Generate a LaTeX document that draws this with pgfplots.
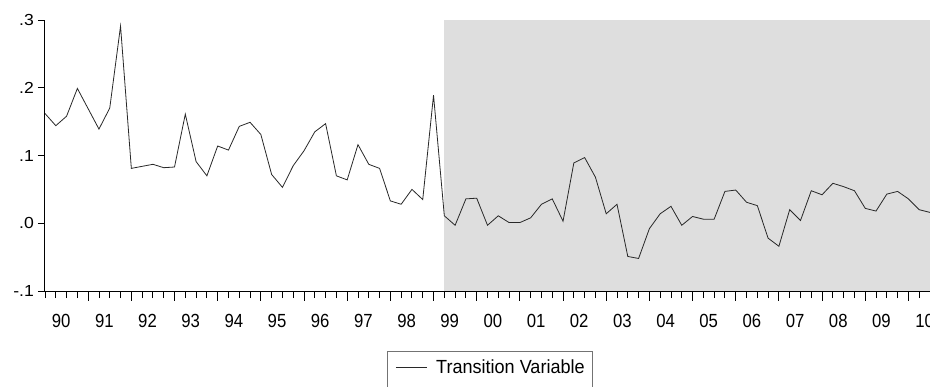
\documentclass[border=0pt]{standalone}
\usepackage{fontspec}
\setmainfont{Liberation Sans}
\newfontfamily\xlabfont[FakeStretch=0.88]{Liberation Sans}
\newfontfamily\ylabfont[FakeStretch=1.1]{Liberation Sans}
\newfontfamily\legfont[FakeStretch=0.95]{Liberation Sans}
\usepackage{pgfplots}
\pgfplotsset{compat=1.18}
\usepackage{pgfplotstable}

\definecolor{regimeshade}{RGB}{222,222,222}
\definecolor{seriesline}{RGB}{40,40,40}

% quarterly observations, 1990Q1 = 0
\pgfplotstableread{
q  tv
0  0.162
1  0.144
2  0.158
3  0.199
4  0.169
5  0.139
6  0.170
7  0.291
8  0.081
9  0.084
10 0.087
11 0.082
12 0.083
13 0.161
14 0.091
15 0.070
16 0.114
17 0.108
18 0.143
19 0.149
20 0.131
21 0.072
22 0.053
23 0.085
24 0.107
25 0.135
26 0.147
27 0.070
28 0.064
29 0.116
30 0.087
31 0.081
32 0.033
33 0.028
34 0.050
35 0.035
36 0.189
37 0.011
38 -0.003
39 0.036
40 0.037
41 -0.003
42 0.011
43 0.001
44 0.001
45 0.008
46 0.028
47 0.036
48 0.003
49 0.089
50 0.097
51 0.068
52 0.014
53 0.028
54 -0.049
55 -0.052
56 -0.008
57 0.014
58 0.025
59 -0.003
60 0.010
61 0.006
62 0.006
63 0.047
64 0.049
65 0.031
66 0.026
67 -0.022
68 -0.034
69 0.020
70 0.004
71 0.048
72 0.042
73 0.059
74 0.054
75 0.048
76 0.022
77 0.018
78 0.043
79 0.047
80 0.036
81 0.020
82 0.016
}\tvdata

\begin{document}
\begin{tikzpicture}
\path[use as bounding box] (0pt,0pt) rectangle (930pt,386pt);
\begin{axis}[
  at={(45pt,95pt)}, anchor=south west,
  scale only axis, width=885pt, height=271pt,
  xmin=0, xmax=82, ymin=-0.1, ymax=0.3,
  axis x line*=bottom, axis y line*=left,
  axis line style={black, line width=1pt},
  axis on top,
  tick align=outside,
  tick style={black, line width=0.9pt},
  major tick length=7pt,
  minor tick length=7pt,
  xtick={1.5,5.5,...,81.5},
  xticklabels={90,91,92,93,94,95,96,97,98,99,00,01,02,03,04,05,06,07,08,09,10},
  major x tick style={draw=none},
  minor xtick={0,1,...,82},
  extra x ticks={4,8,...,80},
  extra x tick labels={},
  extra x tick style={major tick length=9.5pt, major x tick style={draw=black, line width=0.9pt}},
  xticklabel style={font=\xlabfont\fontsize{19}{19}\selectfont, inner sep=0pt, anchor=north, yshift=-16pt},
  ytick={-0.1,0,0.1,0.2,0.3},
  yticklabels={-.1,.0,.1,.2,.3},
  yticklabel style={font=\ylabfont\fontsize{16}{16}\selectfont, inner sep=0pt, anchor=east, xshift=-4pt},
  legend style={at={(0.387,-0.2196)}, anchor=north west,
    draw=black!55, line width=0.8pt, inner xsep=7.5pt, inner ysep=9pt,
    font=\legfont\fontsize{19}{22}\selectfont,
    nodes={inner sep=0pt}},
  legend cell align=left,
  % the sample line, with room below it so the frame runs past the page edge
  legend image code/.code={\draw[seriesline, line width=0.8pt] (0pt,0pt) -- (31pt,0pt); \path (40pt,0pt) (0pt,-16pt);},
]
\addplot[fill=regimeshade, draw=none, forget plot]
  coordinates {(37,-0.1) (82,-0.1) (82,0.3) (37,0.3)} -- cycle;
\addplot[seriesline, line width=0.8pt] table[x=q, y=tv] {\tvdata};
\addlegendentry{Transition Variable}
\end{axis}
\end{tikzpicture}
\end{document}
